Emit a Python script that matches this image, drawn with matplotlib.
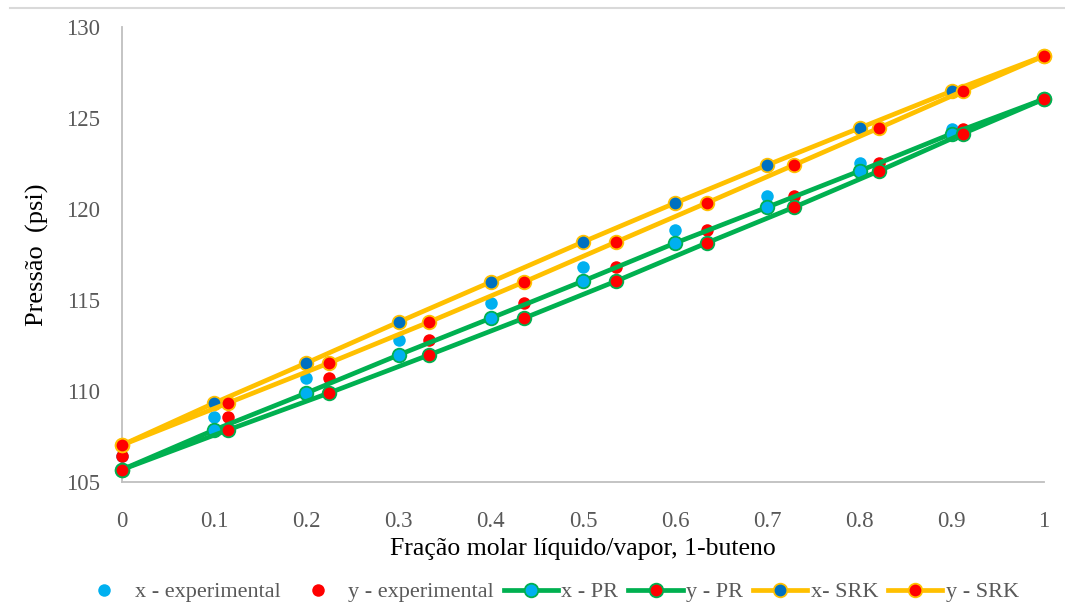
import matplotlib
matplotlib.use("Agg")
from matplotlib import pyplot as plt
from matplotlib.lines import Line2D

plt.rcParams['font.family'] = ['Liberation Serif', 'DejaVu Serif']

# liquid / vapour fractions of 1-butene
x_liq = [0, 0.1, 0.2, 0.3, 0.4, 0.5, 0.6, 0.7, 0.8, 0.9, 1.0]
y_vap = [0, 0.115, 0.2245, 0.333, 0.436, 0.536, 0.634, 0.729, 0.821, 0.912, 1.0]

# pressures (psi)
p_exp = [106.43, 108.57, 110.71, 112.8, 114.84, 116.81, 118.85, 120.71, 122.53, 124.4, 126.04]
p_pr = [105.68, 107.86, 109.89, 111.98, 114.0, 116.04, 118.13, 120.1, 122.09, 124.14, 126.04]
p_srk = [107.03, 109.34, 111.54, 113.79, 115.99, 118.19, 120.33, 122.42, 124.45, 126.48, 128.41]

ticks_y = [105, 110, 115, 120, 125, 130]
ticks_x = [0, 0.1, 0.2, 0.3, 0.4, 0.5, 0.6, 0.7, 0.8, 0.9, 1.0]
tick_labels_x = ["0", "0.1", "0.2", "0.3", "0.4", "0.5", "0.6", "0.7", "0.8", "0.9", "1"]

lblue = "#00B0F0"
red = "#FF0000"
green = "#00B050"
gold = "#FFC000"
dblue = "#0070C0"
grey = "#595959"

fig = plt.figure(figsize=(10.65, 6.06), dpi=100)
ax = fig.add_axes([122 / 1065, 1 - 482 / 606, 922 / 1065, 455 / 606])

ax.plot(x_liq, p_exp, 'o', color=lblue, ms=9, mew=0, clip_on=False, zorder=3,
        label="x - experimental")
ax.plot(y_vap, p_exp, 'o', color=red, ms=9, mew=0, clip_on=False, zorder=4,
        label="y - experimental")
ax.plot(x_liq, p_pr, 'o-', color=green, lw=3.4, mfc=lblue, mec=green, ms=9.8, mew=1.3,
        clip_on=False, zorder=5, label="x - PR")
ax.plot(y_vap, p_pr, 'o-', color=green, lw=3.4, mfc=red, mec=green, ms=9.8, mew=1.3,
        clip_on=False, zorder=6, label="y - PR")
ax.plot(x_liq, p_srk, 'o-', color=gold, lw=3.4, mfc=dblue, mec=gold, ms=9.8, mew=1.3,
        clip_on=False, zorder=7, label="x- SRK")
ax.plot(y_vap, p_srk, 'o-', color=gold, lw=3.4, mfc=red, mec=gold, ms=9.8, mew=1.3,
        clip_on=False, zorder=8, label="y - SRK")

ax.set_xlim(0, 1)
ax.set_ylim(105, 130)
ax.set_yticks(ticks_y)
ax.set_xticks(ticks_x)
ax.set_xticklabels(tick_labels_x)
ax.tick_params(axis='both', length=0, labelsize=16.5, labelcolor=grey)
ax.tick_params(axis='y', pad=16)
ax.tick_params(axis='x', pad=21)

for s in ['top', 'right']:
    ax.spines[s].set_visible(False)
for s in ['left', 'bottom']:
    ax.spines[s].set_color("#BFBFBF")
    ax.spines[s].set_linewidth(1.3)

ax.set_xlabel("Fração molar líquido/vapor, 1-buteno", fontsize=18.5, color="black", labelpad=4)
ax.set_ylabel("Pressão  (psi)", fontsize=19, color="black", labelpad=12)

handles, labels = ax.get_legend_handles_labels()
leg = fig.legend(handles, labels, loc='center', bbox_to_anchor=(548 / 1065, 1 - 592 / 606),
                 ncol=6, frameon=False, fontsize=16, handlelength=2.45, handletextpad=0.14,
                 columnspacing=0.45, labelcolor=grey, borderpad=0)

# outer chart border line at top
fig.add_artist(Line2D([10 / 1065, 1], [1 - 8 / 606, 1 - 8 / 606], color="#D9D9D9", lw=1.5))

plt.savefig("out.png", dpi=100)
